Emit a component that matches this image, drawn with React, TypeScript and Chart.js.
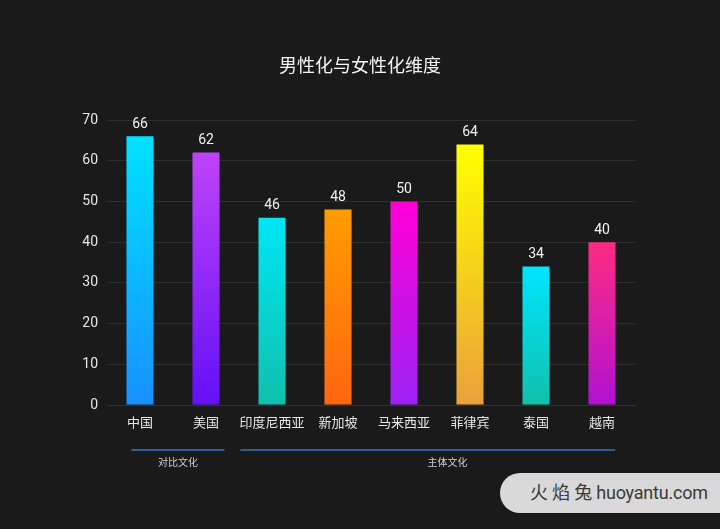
import { useEffect, useRef } from 'react';
import { Chart, registerables } from 'chart.js';

Chart.register(...registerables);

const title = '男性化与女性化维度';
const categories = ['中国', '美国', '印度尼西亚', '新加坡', '马来西亚', '菲律宾', '泰国', '越南'];
const values = [66, 62, 46, 48, 50, 64, 34, 40];
const topColors = ['#00e2ff', '#bf42f8', '#00e6f6', '#ff9c00', '#ff00d6', '#ffff00', '#00e6ff', '#ff2a82'];
const bottomColors = ['#1890ff', '#6410f6', '#10c0ac', '#ff6612', '#9c22f4', '#eba03a', '#10c0ac', '#b012d2'];
const yMax = 70;
const yStep = 10;
const groups = [
  { label: '对比文化', first: 0, last: 1 },
  { label: '主体文化', first: 2, last: 7 },
];
const watermark = '火 焰 兔 huoyantu.com';

const FONT = "Roboto, 'Noto Sans CJK SC', 'Noto Sans', sans-serif";

export default function App() {
  const ref = useRef<HTMLCanvasElement>(null);

  useEffect(() => {
    document.body.style.margin = '0';
    const annot = {
      id: 'annot',
      afterDatasetsDraw(chart: any) {
        const ctx = chart.ctx;
        const meta = chart.getDatasetMeta(0);
        ctx.save();
        // value labels
        ctx.fillStyle = '#f2f2f2';
        ctx.font = `14px ${FONT}`;
        ctx.textAlign = 'center';
        ctx.textBaseline = 'bottom';
        meta.data.forEach((bar: any, i: number) => {
          ctx.fillText(String(values[i]), bar.x, bar.y - 5);
        });
        // title
        ctx.font = `18px ${FONT}`;
        ctx.textBaseline = 'middle';
        ctx.fillStyle = '#f4f4f4';
        ctx.fillText(title, chart.width / 2, 67);
        // groups
        const xs = chart.scales.x;
        const band = xs.getPixelForValue(1) - xs.getPixelForValue(0);
        const lineY = chart.chartArea.bottom + 45;
        groups.forEach((g, gi) => {
          const x0 = xs.getPixelForValue(g.first) - band * (gi === 0 ? 0.13 : 0.48);
          const x1 = xs.getPixelForValue(g.last) + band * (gi === 0 ? 0.28 : 0.2);
          ctx.strokeStyle = '#3478b8';
          ctx.lineWidth = 1.5;
          ctx.beginPath();
          ctx.moveTo(x0, lineY);
          ctx.lineTo(x1, lineY);
          ctx.stroke();
          ctx.fillStyle = '#cfcfcf';
          ctx.font = `10px ${FONT}`;
          const shift = gi === 0 ? 0 : band * 0.3;
          ctx.fillText(g.label, (x0 + x1) / 2 + shift, lineY + 13);
        });
        ctx.restore();
      },
    };

    const chart = new Chart(ref.current!, {
      type: 'bar',
      data: {
        labels: categories,
        datasets: [
          {
            data: values,
            barPercentage: 0.41,
            categoryPercentage: 1,
            backgroundColor: (c: any) => {
              const ch = c.chart;
              const ys = ch.scales?.y;
              const i = c.dataIndex;
              if (!ys || !ch.chartArea || i === undefined) return bottomColors[i ?? 0];
              const yTop = ys.getPixelForValue(values[i]);
              const yBot = ys.getPixelForValue(0);
              const g = ch.ctx.createLinearGradient(0, yTop, 0, yBot);
              g.addColorStop(0, topColors[i]);
              g.addColorStop(1, bottomColors[i]);
              return g;
            },
          },
        ],
      },
      options: {
        responsive: false,
        animation: false,
        layout: { padding: { top: 120, right: 85, bottom: 94, left: 0 } },
        plugins: {
          legend: { display: false },
          tooltip: { enabled: false },
          title: { display: false },
        },
        scales: {
          x: {
            grid: { display: false },
            border: { display: true, color: '#333333' },
            ticks: {
              color: '#e6e6e6',
              font: { size: 13, family: FONT },
              padding: 3,
              maxRotation: 0,
              autoSkip: false,
            },
            afterFit: (s: any) => {
              s.height = 30;
            },
          },
          y: {
            min: 0,
            max: yMax,
            ticks: { stepSize: yStep, color: '#e6e6e6', font: { size: 14, family: FONT }, padding: 9 },
            grid: { color: '#2e2e2e', drawTicks: false },
            border: { display: false },
            afterFit: (s: any) => {
              s.width = 107;
            },
          },
        },
      },
      plugins: [annot],
    });
    return () => chart.destroy();
  }, []);

  return (
    <div style={{ position: 'relative', width: 720, height: 529, background: '#1a1a1a', overflow: 'hidden' }}>
      <canvas ref={ref} width={720} height={529} style={{ display: 'block' }} />
      <div
        style={{
          position: 'absolute',
          left: 500,
          top: 473,
          width: 240,
          height: 40,
          borderRadius: 20,
          background: '#d9d9d9',
          color: '#3a3a3a',
          fontFamily: "Roboto, 'Noto Sans CJK SC', sans-serif",
          fontSize: 18,
          lineHeight: '40px',
          paddingLeft: 30,
          boxSizing: 'border-box',
          whiteSpace: 'nowrap',
          letterSpacing: -0.2,
        }}
      >
        {watermark}
      </div>
    </div>
  );
}
